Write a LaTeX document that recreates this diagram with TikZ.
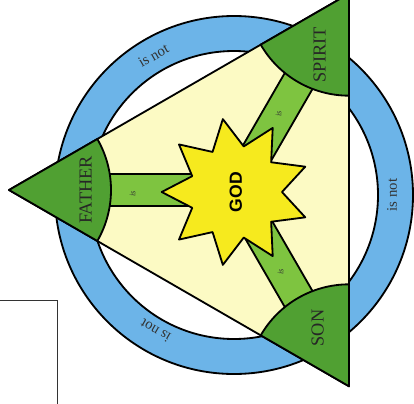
\documentclass[tikz,border=0pt]{standalone}
\usepackage{fontspec}
\setmainfont{Liberation Serif}
\setsansfont{Liberation Sans}
\usetikzlibrary{shapes.geometric}

\definecolor{ringblue}{RGB}{108,180,232}
\definecolor{paleyellow}{RGB}{252,250,196}
\definecolor{darkleaf}{RGB}{80,160,50}
\definecolor{lightleaf}{RGB}{126,196,64}
\definecolor{staryellow}{RGB}{246,234,30}

\begin{document}
\begin{tikzpicture}[
        x=0.025cm, y=0.025cm,
        outline/.style={draw=black, line width=1.3pt, line join=round},
        corner/.style={outline, fill=darkleaf},
        bar/.style={outline, fill=lightleaf},
        person/.style={font=\fontsize{13}{13}\selectfont, rotate=90, text=black!85},
        isnot/.style={font=\fontsize{10.5}{10.5}\selectfont, text=black!80, inner sep=1pt},
        islabel/.style={font=\fontsize{6}{6}\selectfont\itshape, rotate=90, inner sep=0pt, text=black!80}
    ]
        \useasboundingbox (-235.7,-213) rectangle (178.3,190);
        \draw[line width=0.6pt, black!80] (-260,-110) rectangle (-178.7,-240);

        \begin{scope}[shift={(-1.7,-5)}]
            \fill[ringblue, even odd rule] (0,0) circle (179) (0,0) circle (144);
            \draw[outline] (0,0) circle (179) (0,0) circle (144);
        \end{scope}

        \draw[outline, fill=paleyellow] (180:226.7) -- (60:226.7) -- (-60:226.7) -- cycle;
        \foreach \a in {180,60,-60} {
            \draw[bar, rotate=\a] (0,-16) rectangle (135,16);
            \draw[corner] (\a:226.7) -- ++(\a+210:102)
                arc[start angle=\a+210, end angle=\a+150, radius=102] -- cycle;
        }

        \node[star, star points=9, star point ratio=1.6, shape border rotate=-80,
              minimum size=3.7cm, inner sep=0pt, outline, fill=staryellow, rotate=90,
              font=\sffamily\bfseries\fontsize{12.5}{12.5}\selectfont] (god) at (0,-2) {GOD};

        \node[person] (father) at (-150,0) {FATHER};
        \node[person] (spirit) at (84,135) {SPIRIT};
        \node[person] (son) at (82,-138) {SON};

        \node[islabel] (fatheris) at (-103,-4) {is};
        \node[islabel] (spiritis) at (43,76) {is};
        \node[islabel] (sonis) at (45,-82) {is};

        \begin{scope}[shift={(-1.7,-5)}]
            \node[isnot, rotate=30] (notfs) at (120:161) {is not};
            \node[isnot, rotate=90] (notss) at (0:158) {is not};
            \node[isnot, rotate=150] (notsf) at (240:157) {is not};
        \end{scope}
    \end{tikzpicture}
\end{document}
